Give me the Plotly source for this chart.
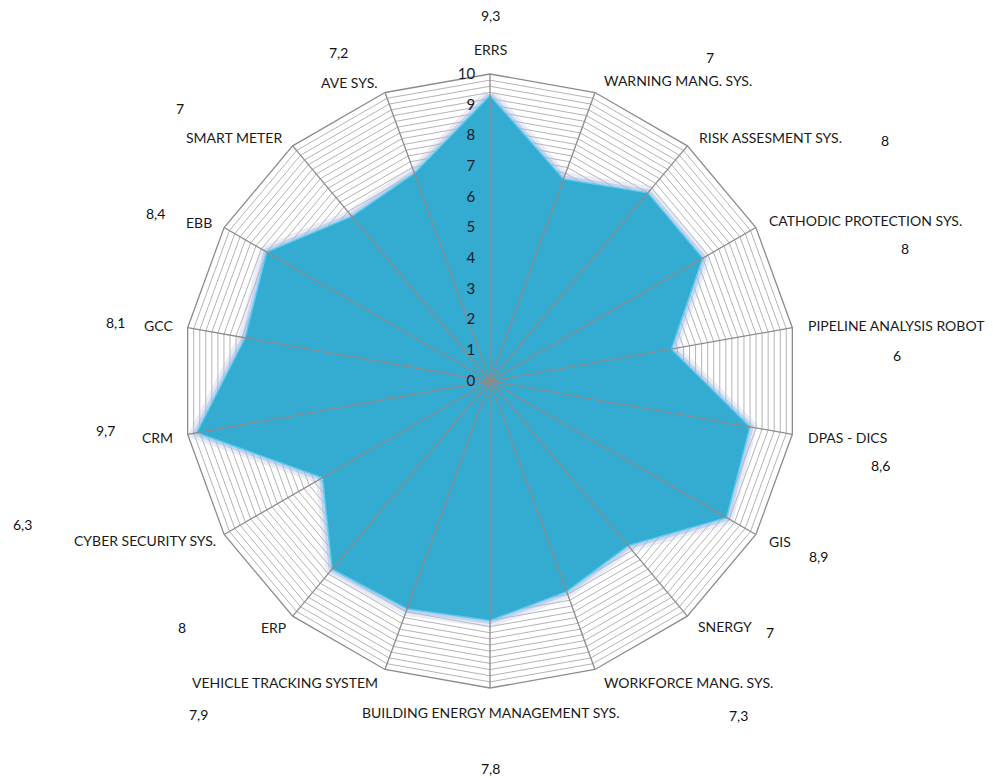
import plotly.graph_objects as go

categories = ["ERRS", "WARNING MANG. SYS.", "RISK ASSESMENT SYS.", "CATHODIC PROTECTION SYS.",
              "PIPELINE ANALYSIS ROBOT", "DPAS - DICS", "GIS", "SNERGY", "WORKFORCE MANG. SYS.",
              "BUILDING ENERGY MANAGEMENT SYS.", "VEHICLE TRACKING SYSTEM", "ERP",
              "CYBER SECURITY SYS.", "CRM", "GCC", "EBB", "SMART METER", "AVE SYS."]
values = [9.3, 7, 8, 8, 6, 8.6, 8.9, 7, 7.3, 7.8, 7.9, 8, 6.3, 9.7, 8.1, 8.4, 7, 7.2]
value_labels = ["9,3", "7", "8", "8", "6", "8,6", "8,9", "7", "7,3", "7,8", "7,9", "8",
                "6,3", "9,7", "8,1", "8,4", "7", "7,2"]

# layout only: pixel anchors of the value labels and category labels
value_pos = [(490, 15), (710, 57), (885, 140), (905, 248), (897, 355), (880, 465), (818, 556),
             (770, 632), (738, 715), (490, 768), (198, 714), (182, 627), (22, 524), (105, 430),
             (115, 322), (155, 213), (180, 108), (338, 53)]
cat_pos = [(490, 50, "center"), (602, 81, "left"), (697, 137, "left"), (767, 221, "left"),
           (806, 325, "left"), (806, 437, "left"), (767, 541, "left"), (696, 626, "left"),
           (602, 682, "left"), (490, 712, "center"), (380, 682, "right"), (288, 627, "right"),
           (218, 540, "right"), (175, 437, "right"), (175, 325, "right"), (214, 222, "right"),
           (284, 137, "right"), (380, 82, "right")]

W, H = 993, 778
cx, cy, R = 490, 381, 307

tickvals = [i / 5 for i in range(0, 51)]
ticktext = [str(int(v)) if abs(v - round(v)) < 1e-9 else "" for v in tickvals]

theta_closed = categories + [categories[0]]
r_closed = values + [values[0]]

fig = go.Figure()
# soft glow
fig.add_trace(go.Scatterpolar(r=r_closed, theta=theta_closed, mode="lines",
                              line=dict(color="rgba(185,200,230,0.35)", width=14),
                              hoverinfo="skip", showlegend=False))
fig.add_trace(go.Scatterpolar(r=r_closed, theta=theta_closed, mode="lines",
                              line=dict(color="rgba(160,180,220,0.45)", width=7),
                              hoverinfo="skip", showlegend=False))
fig.add_trace(go.Scatterpolar(r=r_closed, theta=theta_closed, mode="lines", fill="toself",
                              fillcolor="#34abd0", line=dict(color="#55cdf3", width=1.5),
                              showlegend=False))
# spokes above the fill
sr, st = [], []
for c in categories:
    sr += [0, 10, None]
    st += [c, c, c]
fig.add_trace(go.Scatterpolar(r=sr, theta=st, mode="lines",
                              line=dict(color="#8c8c8c", width=1.3),
                              hoverinfo="skip", showlegend=False))

fig.update_layout(
    width=W, height=H,
    margin=dict(l=0, r=0, t=0, b=0),
    paper_bgcolor="white",
    font=dict(family="Lato", color="#1a1a1a"),
    polar=dict(
        domain=dict(x=[(cx - R) / W, (cx + R) / W], y=[(H - cy - R) / H, (H - cy + R) / H]),
        bgcolor="white",
        gridshape="linear",
        angularaxis=dict(rotation=90, direction="clockwise", categoryorder="array",
                         categoryarray=categories, showline=True, linecolor="#8c8c8c",
                         linewidth=1.3, showgrid=False, ticks="", showticklabels=False),
        radialaxis=dict(range=[0, 10], angle=90, tickangle=90, tickvals=tickvals, ticktext=ticktext,
                        showline=False, gridcolor="#b4b4b4", gridwidth=1,
                        ticks="outside", ticklen=9, tickcolor="rgba(0,0,0,0)",
                        side="counterclockwise",
                        tickfont=dict(family="Lato", size=15, color="#1a1a2a")),
    ),
)

for name, (px, py, anc) in zip(categories, cat_pos):
    fig.add_annotation(x=px / W, y=1 - py / H, xref="paper", yref="paper", text=name,
                       showarrow=False, font=dict(family="Lato", size=14, color="#1a1a1a"),
                       xanchor=anc, yanchor="middle")

for txt, (px, py) in zip(value_labels, value_pos):
    fig.add_annotation(x=px / W, y=1 - py / H, xref="paper", yref="paper", text=txt,
                       showarrow=False, font=dict(family="Lato", size=14, color="#111"),
                       xanchor="center", yanchor="middle")

fig.write_html("out.html")
